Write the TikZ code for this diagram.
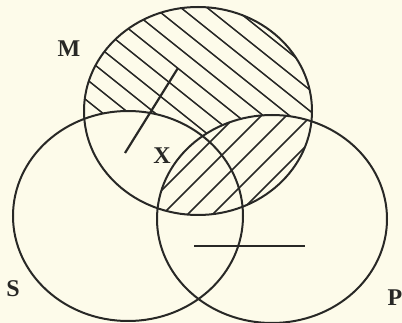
\documentclass[tikz,border=0pt]{standalone}
\usepackage{fontspec}
\setmainfont{Liberation Serif}
\usetikzlibrary{shapes.geometric}
\definecolor{bg}{RGB}{253,251,234}
\definecolor{ink}{RGB}{40,40,38}
\begin{document}
\begin{tikzpicture}[x=1pt,y=-1pt,
  circ/.style={draw=ink,line width=2pt},
  hatch/.style={draw=ink,line width=1.5pt},
  lbl/.style={font=\bfseries\fontsize{24}{24}\selectfont,text=ink,inner sep=0pt}]
\fill[bg] (0,0) rectangle (402,323);
\useasboundingbox (0,0) rectangle (402,323);
\coordinate (cM) at (198,111);
\coordinate (cS) at (128,216);
\coordinate (cP) at (272,219);
% hatching of M outside S and P
\begin{scope}
  \clip (cM) ellipse [x radius=114, y radius=104];
  \foreach \c in {-368,-347,...,230} {
    \draw[hatch] (0,\c) -- (402,{0.8*402+\c});
  }
  \fill[bg] (cS) ellipse [x radius=115, y radius=105];
  \fill[bg] (cP) ellipse [x radius=115, y radius=104];
\end{scope}
% hatching of M and P
\begin{scope}
  \clip (cM) ellipse [x radius=114, y radius=104];
  \clip (cP) ellipse [x radius=115, y radius=104];
  \foreach \c in {277,302,...,627} {
    \draw[hatch] (0,\c) -- (402,{\c-402});
  }
\end{scope}
\node[circ,ellipse,minimum width=228pt,minimum height=208pt,inner sep=0pt] (M) at (cM) {};
\node[circ,ellipse,minimum width=230pt,minimum height=210pt,inner sep=0pt] (S) at (cS) {};
\node[circ,ellipse,minimum width=230pt,minimum height=208pt,inner sep=0pt] (P) at (cP) {};
\coordinate (b1) at (125,153);
\coordinate (b2) at (178,68);
\draw[ink,line width=2.2pt] (b1) -- (b2);
\coordinate (h1) at (194,246);
\coordinate (h2) at (305,246);
\draw[ink,line width=1.8pt] (h1) -- (h2);
\node[lbl] (lM) at (69,49) {M};
\node[lbl] (lX) at (162,156) {X};
\node[lbl] (lS) at (13,289) {S};
\node[lbl] (lP) at (395,298) {P};
\end{tikzpicture}
\end{document}
